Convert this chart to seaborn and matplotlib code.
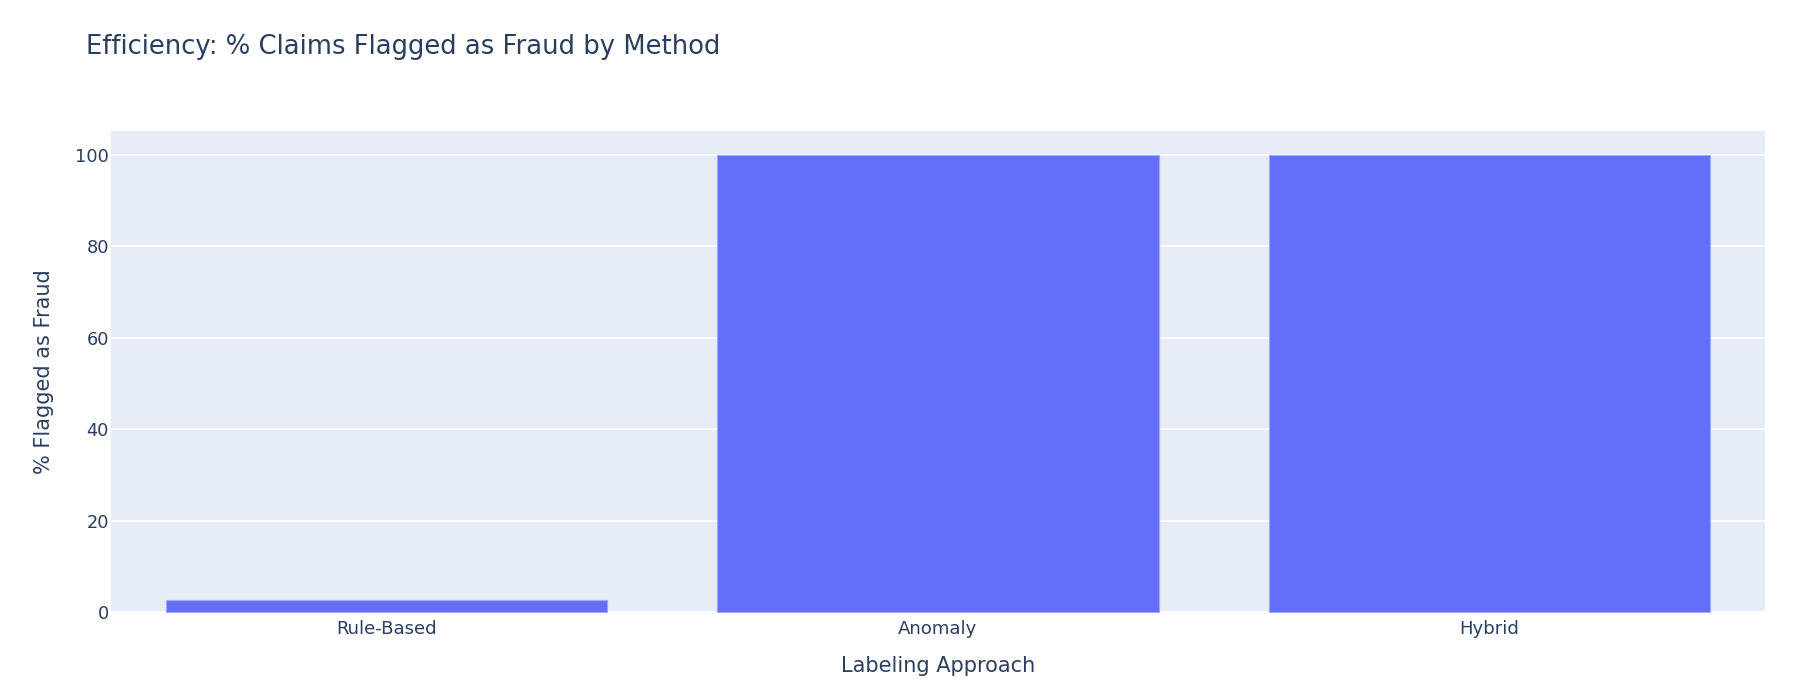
import matplotlib
matplotlib.use("Agg")
import matplotlib.pyplot as plt
import pandas as pd
import seaborn as sns

methods = ["Rule-Based", "Anomaly", "Hybrid"]
pct_flagged = [2.6, 100, 100]
y_ticks = [0, 20, 40, 60, 80, 100]

W, H = 1798, 684
TEXT = "#2a3f5f"

sns.set_theme(style="darkgrid", rc={
    "axes.facecolor": "#e5ecf6",
    "grid.color": "white",
    "grid.linewidth": 1.1,
})
plt.rcParams["font.family"] = ["DejaVu Sans"]

df = pd.DataFrame({"method": methods, "pct": pct_flagged})

fig = plt.figure(figsize=(W / 100, H / 100), dpi=100, facecolor="white")
ax = fig.add_axes([111 / W, 1 - 612 / H, (1765 - 111) / W, (612 - 131) / H])

sns.barplot(data=df, x="method", y="pct", color="#636efa", saturation=1, width=0.8,
            edgecolor="#a0a8f8", linewidth=0.8, ax=ax, clip_on=False, zorder=3)

ax.set_xlim(-0.5, 2.5)
ax.set_ylim(0, 105.26)
ax.set_yticks(y_ticks)
ax.xaxis.grid(False)
ax.set_axisbelow(True)
for s in ax.spines.values():
    s.set_visible(False)
ax.tick_params(axis="both", length=0, labelcolor=TEXT)
ax.tick_params(axis="x", labelsize=13.1, pad=6)
ax.tick_params(axis="y", labelsize=12.8, pad=1.5)
ax.axhline(0, color="white", linewidth=1.4, zorder=2)

ax.set_xlabel("Labeling Approach", fontsize=15, color=TEXT, labelpad=13)
ax.set_ylabel("% Flagged as Fraud", fontsize=15, color=TEXT, labelpad=15.5)
fig.text(86 / W, 1 - 47 / H, "Efficiency: % Claims Flagged as Fraud by Method",
         fontsize=18.6, color=TEXT, va="center", ha="left")

fig.savefig("out.png", dpi=100)
